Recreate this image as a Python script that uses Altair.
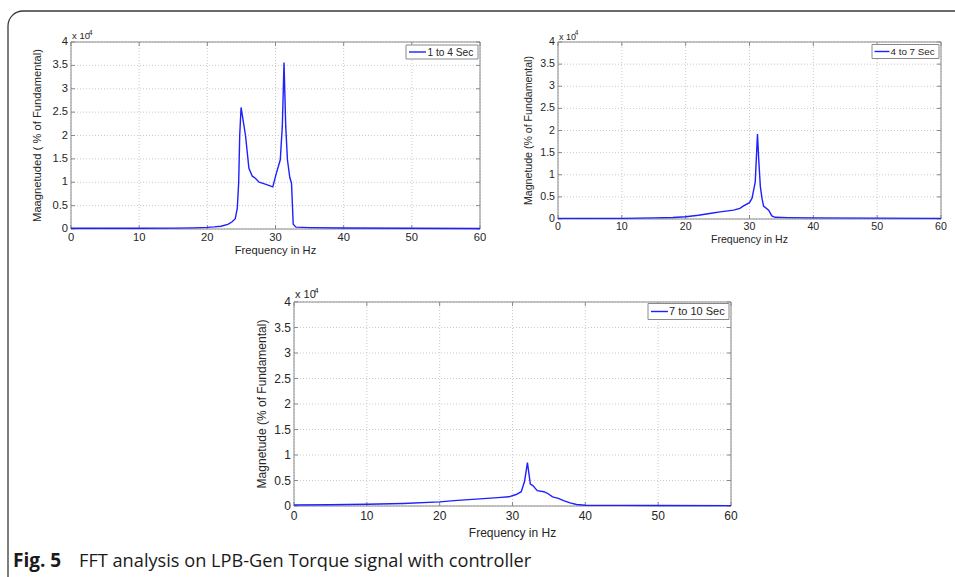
import altair as alt
import pandas as pd

# ---- spectra (frequency in Hz, magnitude in % of fundamental) ----
freq_1to4 = [0, 5, 10, 15, 18, 20, 21, 22, 23, 23.6, 24.1, 24.4, 24.6, 24.75, 24.95,
             25.6, 26.1, 26.6, 27.0, 27.6, 28.5, 29.6, 30.1, 30.7, 31.0, 31.25, 31.5,
             31.75, 32.1, 32.35, 32.6, 33.0, 35, 40, 50, 60]
mag_1to4 = [150, 150, 150, 180, 250, 350, 450, 600, 1000, 1500, 2200, 4500, 10000, 20000, 26000,
            20000, 13000, 11300, 10900, 10000, 9600, 9000, 11800, 14800, 22000, 35600, 22000,
            14800, 11000, 9800, 1000, 400, 300, 200, 150, 100]

freq_4to7 = [0, 10, 15, 18, 20, 22, 24, 25.4, 27.5, 28.5, 29, 30, 30.4, 30.65, 30.9, 31.25,
             31.45, 31.7, 31.95, 32.2, 33.0, 33.5, 34, 36, 40, 50, 60]
mag_4to7 = [150, 150, 250, 350, 500, 850, 1300, 1600, 2000, 2400, 2900, 3700, 4700, 6500, 8400, 19200,
            13300, 7300, 4700, 2900, 2000, 700, 380, 300, 250, 200, 150]

freq_7to10 = [0, 5, 10, 15, 20, 22, 25, 28, 29.5, 30.5, 31.2, 31.65, 32.05, 32.45, 32.8, 33.4,
              34.3, 34.8, 35.5, 36.3, 37, 37.9, 38.8, 40, 45, 50, 60]
mag_7to10 = [200, 250, 330, 500, 800, 1050, 1350, 1650, 1800, 2250, 2800, 4800, 8500, 4300, 4000, 3000,
             2800, 2500, 1800, 1500, 1050, 600, 300, 150, 120, 100, 80]

# ---- axis ticks and texts ----
x_ticks = [0, 10, 20, 30, 40, 50, 60]
y_ticks = [0, 5000, 10000, 15000, 20000, 25000, 30000, 35000, 40000]
y_tick_labels = ["0", "0.5", "1", "1.5", "2", "2.5", "3", "3.5", "4"]
legend_labels = ["1 to 4 Sec", "4 to 7 Sec", "7 to 10 Sec"]
y_titles = ["Maagnetuded ( % of Fundamental)",
            "Magnetude (% of Fundamental)",
            "Magnetude (% of Fundamental)"]
x_title = "Frequency in Hz"
caption_bold = "Fig. 5"
caption_text = "FFT analysis on LPB-Gen Torque signal with controller"

X_DOMAIN = [0, 60]
Y_DOMAIN = [0, 40000]

FONT = "Liberation Sans"
LINE_BLUE = "#1f1fff"
TEXT = "#262626"
BOX = "#8a8a8a"
GRID = "#c4c4c4"

# pixel placement of each axes box on the page; legend offsets are measured
# from the upper-right corner of the axes box
LAYOUT = [
    dict(left=71, right=480, bottom=229, top=42, fs=11.2, ytitle_off=-33, xtitle_off=22,
         xlab_off=3, exp_fs=9.5,
         leg_box=(-74, -2, 3, 17), leg_line=(-71, -54), leg_text=-52.5, leg_fs=10.2),
    dict(left=558, right=941, bottom=219, top=42, fs=10.6, ytitle_off=-29, xtitle_off=21,
         xlab_off=2.5, exp_fs=9,
         leg_box=(-69, -2, 2.5, 16.5), leg_line=(-66.5, -51.5), leg_text=-50.5, leg_fs=9.8),
    dict(left=294, right=731, bottom=506, top=302, fs=12, ytitle_off=-32, xtitle_off=27,
         xlab_off=5, exp_fs=11,
         leg_box=(-83, -2, 1.5, 17.5), leg_line=(-80, -63), leg_text=-62, leg_fs=11),
]


def make_panel(freq, mag, legend, ytitle, g):
    xs = alt.Scale(domain=X_DOMAIN, range=[g["left"], g["right"]], nice=False, zero=False)
    ys = alt.Scale(domain=Y_DOMAIN, range=[g["bottom"], g["top"]], nice=False, zero=False)

    def X(field):
        return alt.X(f"{field}:Q", scale=xs, axis=None)

    def Y(field):
        return alt.Y(f"{field}:Q", scale=ys, axis=None)

    fs = g["fs"]
    xt = pd.DataFrame({"f": x_ticks, "v": 0, "top": Y_DOMAIN[1],
                       "label": [str(t) for t in x_ticks]})
    yt = pd.DataFrame({"f": 0, "right": X_DOMAIN[1], "v": y_ticks, "label": y_tick_labels})
    box = pd.DataFrame({"f0": [X_DOMAIN[0]], "f1": [X_DOMAIN[1]],
                        "v0": [Y_DOMAIN[0]], "v1": [Y_DOMAIN[1]],
                        "fm": [sum(X_DOMAIN) / 2], "vm": [sum(Y_DOMAIN) / 2]})
    spec = pd.DataFrame({"f": freq, "v": mag})

    layers = []
    # dotted grid
    layers.append(alt.Chart(xt).mark_rule(color=GRID, strokeDash=[1, 2], strokeWidth=0.9)
                  .encode(x=X("f"), y=Y("v"), y2="top"))
    layers.append(alt.Chart(yt).mark_rule(color=GRID, strokeDash=[1, 2], strokeWidth=0.9)
                  .encode(x=X("f"), x2="right", y=Y("v")))
    # inward ticks on all four sides
    layers.append(alt.Chart(xt).mark_rule(color=BOX, y2Offset=-4)
                  .encode(x=X("f"), y=Y("v"), y2="v"))
    layers.append(alt.Chart(xt).mark_rule(color=BOX, y2Offset=4)
                  .encode(x=X("f"), y=Y("top"), y2="top"))
    layers.append(alt.Chart(yt).mark_rule(color=BOX, x2Offset=4)
                  .encode(x=X("f"), x2="f", y=Y("v")))
    layers.append(alt.Chart(yt).mark_rule(color=BOX, x2Offset=-4)
                  .encode(x=X("right"), x2="right", y=Y("v")))
    # axes box
    layers.append(alt.Chart(box).mark_rect(fillOpacity=0, stroke=BOX, strokeWidth=1)
                  .encode(x=X("f0"), x2="f1", y=Y("v0"), y2="v1"))
    # spectrum
    layers.append(alt.Chart(spec).mark_line(color=LINE_BLUE, strokeWidth=1.4)
                  .encode(x=X("f"), y=Y("v")))
    # tick labels
    layers.append(alt.Chart(xt).mark_text(font=FONT, fontSize=fs, color=TEXT, align="center",
                                          baseline="top", yOffset=g["xlab_off"])
                  .encode(x=X("f"), y=Y("v"), text="label"))
    layers.append(alt.Chart(yt).mark_text(font=FONT, fontSize=fs, color=TEXT, align="right",
                                          baseline="middle", xOffset=-3)
                  .encode(x=X("f"), y=Y("v"), text="label"))
    # axis titles
    layers.append(alt.Chart(box).mark_text(font=FONT, fontSize=fs, color=TEXT, align="center",
                                           baseline="middle", yOffset=g["xtitle_off"])
                  .encode(x=X("fm"), y=Y("v0"), text=alt.value(x_title)))
    layers.append(alt.Chart(box).mark_text(font=FONT, fontSize=fs, color=TEXT, align="center",
                                           baseline="middle", angle=270, xOffset=g["ytitle_off"])
                  .encode(x=X("f0"), y=Y("vm"), text=alt.value(ytitle)))
    # exponent marker "x 10^4"
    layers.append(alt.Chart(box).mark_text(font=FONT, fontSize=g["exp_fs"], color=TEXT,
                                           align="left", baseline="middle",
                                           xOffset=1, yOffset=-0.6 * g["exp_fs"])
                  .encode(x=X("f0"), y=Y("v1"), text=alt.value("x 10")))
    layers.append(alt.Chart(box).mark_text(font=FONT, fontSize=g["exp_fs"] * 0.72, color=TEXT,
                                           align="left", baseline="middle",
                                           xOffset=1 + 1.75 * g["exp_fs"], yOffset=-1.0 * g["exp_fs"])
                  .encode(x=X("f0"), y=Y("v1"), text=alt.value("4")))
    # legend box inside the upper right corner
    bl, br, bt, bb = g["leg_box"]
    l0, l1 = g["leg_line"]
    ymid = (bt + bb) / 2
    layers.append(alt.Chart(box).mark_rect(fill="white", stroke=BOX, strokeWidth=1,
                                           xOffset=bl, x2Offset=br, yOffset=bt, y2Offset=bb)
                  .encode(x=X("f1"), x2="f1", y=Y("v1"), y2="v1"))
    layers.append(alt.Chart(box).mark_rule(color=LINE_BLUE, strokeWidth=1.4,
                                           xOffset=l0, x2Offset=l1, yOffset=ymid)
                  .encode(x=X("f1"), x2="f1", y=Y("v1")))
    layers.append(alt.Chart(box).mark_text(font=FONT, fontSize=g["leg_fs"], color=TEXT,
                                           align="left", baseline="middle",
                                           xOffset=g["leg_text"], yOffset=ymid + 0.5)
                  .encode(x=X("f1"), y=Y("v1"), text=alt.value(legend)))
    return layers


panels = []
for freq, mag, leg, yt_, geo in zip([freq_1to4, freq_4to7, freq_7to10],
                                    [mag_1to4, mag_4to7, mag_7to10],
                                    legend_labels, y_titles, LAYOUT):
    panels += make_panel(freq, mag, leg, yt_, geo)

one = pd.DataFrame({"k": [0]})
# page frame with a rounded upper-left corner
frame = alt.Chart(one).mark_rect(fillOpacity=0, stroke="#3a3a3a", strokeWidth=1.3, cornerRadius=15).encode(
    x=alt.value(8), x2=alt.value(1000), y=alt.value(11), y2=alt.value(620))
# figure caption
cap_bold = alt.Chart(one).mark_text(font="Open Sans", fontSize=19, fontWeight="bold", color="#1a1a1a",
                                    align="left", baseline="alphabetic").encode(
    x=alt.value(13), y=alt.value(566.5), text=alt.value(caption_bold))
cap_text = alt.Chart(one).mark_text(font="Open Sans", fontSize=18.2, color="#1a1a1a",
                                    align="left", baseline="alphabetic").encode(
    x=alt.value(79), y=alt.value(566.5), text=alt.value(caption_text))

chart = alt.layer(*panels, frame, cap_bold, cap_text).resolve_scale(
    x="independent", y="independent"
).properties(
    width=955, height=577, padding=0,
    autosize=alt.AutoSizeParams(type="none"),
    background="white",
).configure_view(stroke=None)

chart.save("out.html", embed_options={"renderer": "svg", "actions": False})
